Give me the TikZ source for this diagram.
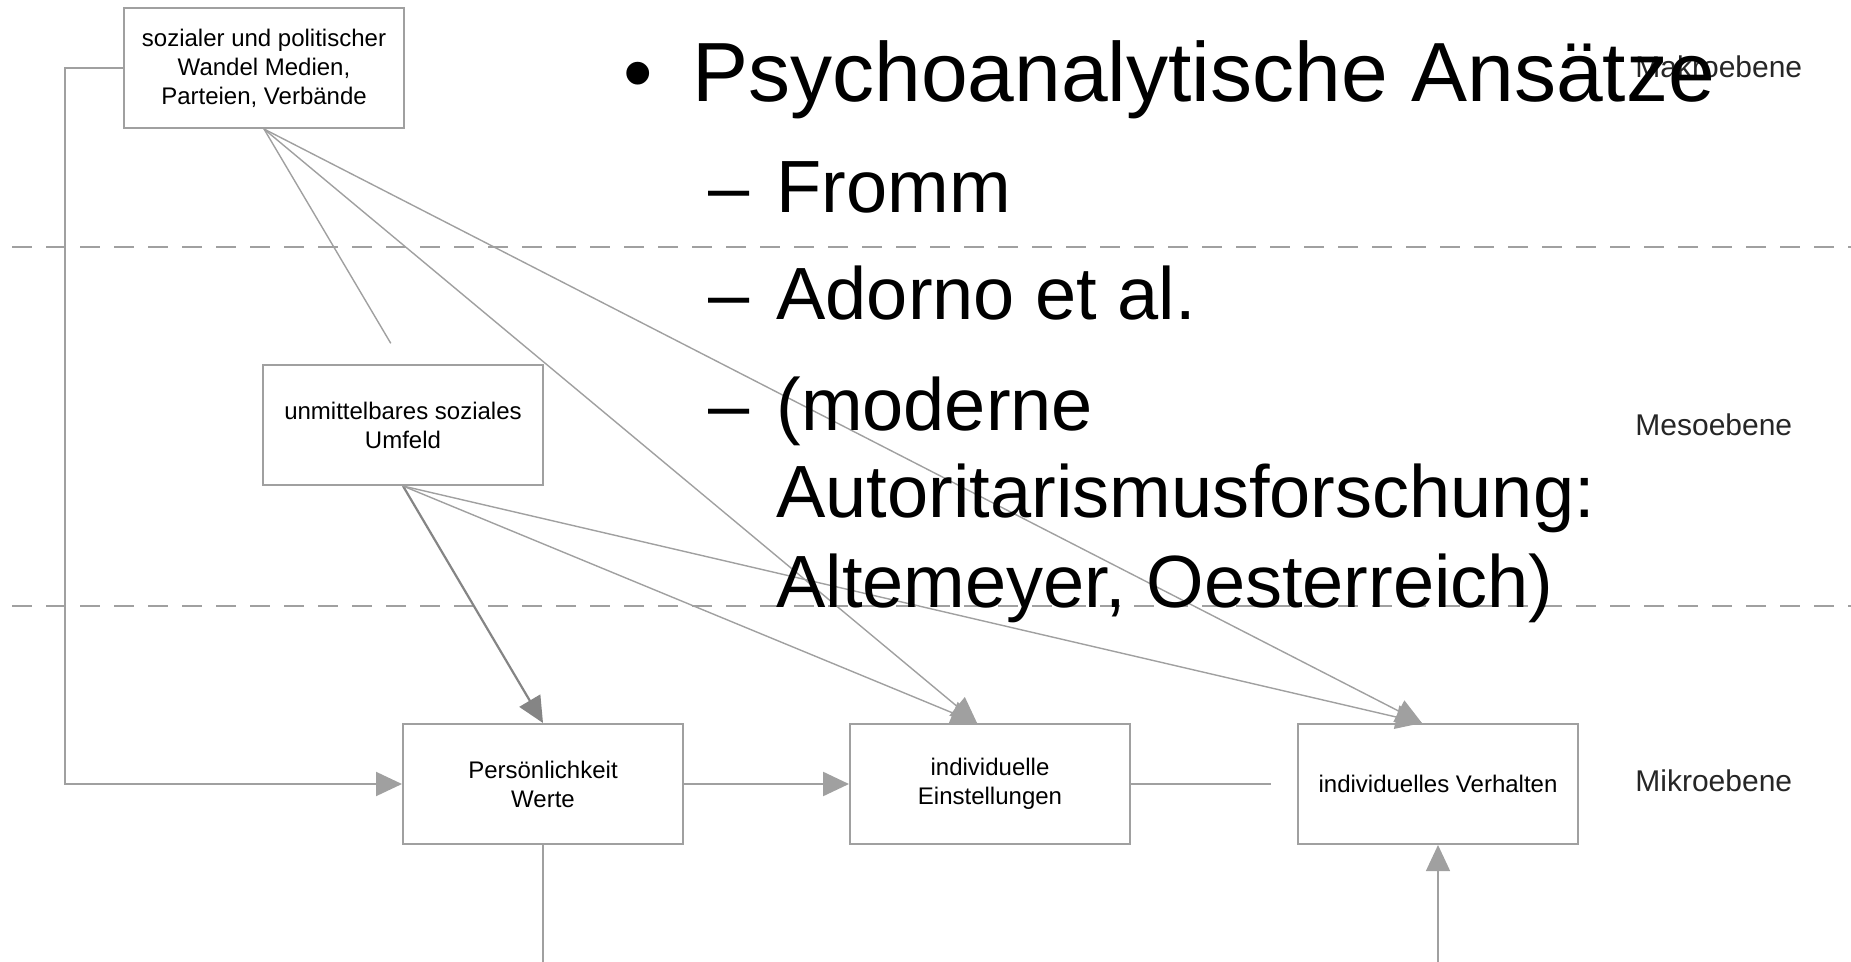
\documentclass[tikz,border=0pt]{standalone}
\usepackage{fontspec}
\setmainfont{Liberation Sans}
\usetikzlibrary{arrows.meta,calc}
\definecolor{lg}{HTML}{A0A0A0}
\definecolor{dg}{HTML}{858585}
\begin{document}
\begin{tikzpicture}[x=0.5pt,y=-0.5pt,
  box/.style={draw=lg, line width=1pt, fill=white, minimum width=140pt, minimum height=60pt,
    align=center, inner sep=2pt, font=\fontsize{12}{14.5}\selectfont},
  conn/.style={draw=lg, line width=0.7pt},
  tip/.style={-{Triangle[length=13pt,width=12pt]}},
  level/.style={anchor=west, inner sep=0pt, font=\fontsize{15}{18}\selectfont, text=black!85},
  big/.style={anchor=base west, inner sep=0pt, font=\fontsize{42}{46}\selectfont},
  sub/.style={anchor=base west, inner sep=0pt, font=\fontsize{37}{40}\selectfont},
  sep/.style={draw=lg, line width=1pt, dash pattern=on 10pt off 7pt}]
\useasboundingbox (0,0) rectangle (1851,962);

% level separators
\draw[sep] (12,247) -- (1851,247);
\draw[sep] (12,606) -- (1851,606);

% boxes
\node[box] (A) at (264,68) {sozialer und politischer\\Wandel Medien,\\Parteien, Verbände};
\node[box] (B) at (403,425) {unmittelbares soziales\\Umfeld};
\node[box] (C) at (543,784) {Persönlichkeit\\Werte};
\node[box] (D) at (990,784) {individuelle\\Einstellungen};
\node[box] (E) at (1438,784) {individuelles Verhalten};

\coordinate (Dt) at ($(D.north west)!0.454!(D.north east)$);
\coordinate (Et) at ($(E.north west)!0.443!(E.north east)$);
\coordinate (L) at (65,68);
\coordinate (gap) at (1271,784);
\coordinate (Cb) at (543,962);
\coordinate (Eb) at (1438,962);

% connectors
\draw[conn,tip,line width=1pt] (A.west) -- (L) |- (C.west);
\draw[conn,shorten >=12pt] (A.south) -- (B.north);
\draw[conn,tip] (A.south) -- (Dt);
\draw[conn,tip] (A.south) -- (Et);
\draw[conn,tip,draw=dg,line width=1.1pt] (B.south) -- (C.north);
\draw[conn,tip] (B.south) -- (Dt);
\draw[conn,tip] (B.south) -- (Et);
\draw[conn,tip,line width=1.2pt] (C.east) -- (D.west);
\draw[conn,line width=1.2pt] (D.east) -- (gap);
\draw[conn] (C.south) -- (Cb);
\draw[conn,tip] (Eb) -- (E.south);

% level labels
\node[level] (mak) at (1635,67) {Makroebene};
\node[level] (mes) at (1635,425) {Mesoebene};
\node[level] (mik) at (1635,781) {Mikroebene};

% overlaid slide text
\node[anchor=base, inner sep=0pt, font=\fontsize{42}{46}\selectfont] (bul) at (638,102) {•};
\node[big] (t0) at (692,102) {Psychoanalytische Ansätze};
\node[sub] (d1) at (708,213) {–};
\node[sub] (t1) at (776,213) {Fromm};
\node[sub] (d2) at (708,320) {–};
\node[sub] (t2) at (776,320) {Adorno et al.};
\node[sub] (d3) at (708,430) {–};
\node[sub] (t3) at (776,430) {(moderne};
\node[sub] (t4) at (776,517) {Autoritarismusforschung:};
\node[sub] (t5) at (776,607) {Altemeyer, Oesterreich)};
\end{tikzpicture}
\end{document}
